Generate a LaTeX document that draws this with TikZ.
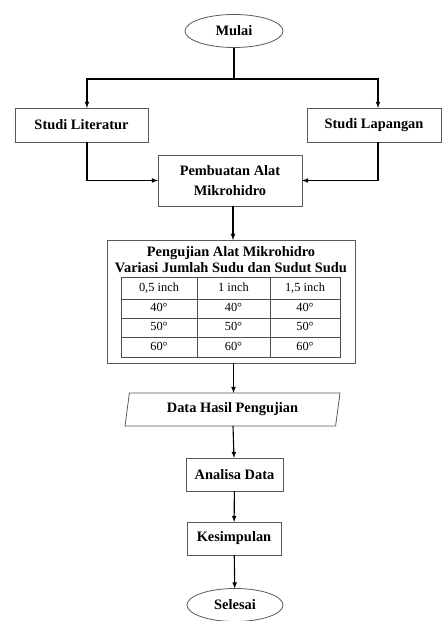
\documentclass[tikz,border=0pt]{standalone}
\usepackage{fontspec}
\setmainfont{Liberation Serif}
\usetikzlibrary{shapes.geometric}

\begin{document}
\begin{tikzpicture}[x=1pt, y=-1pt]
\tikzset{ >=latex, inner sep=0pt, outer sep=0pt,
  box/.style={draw=black!65, line width=0.8pt, rectangle, align=center,
    font=\fontsize{14.4}{20}\selectfont\bfseries},
  term/.style={box, ellipse},
  link/.style={->, line width=1.1pt},
  cell/.style={font=\fontsize{12.4}{14}\selectfont, text height=8.5pt, text depth=2.5pt},
}
\useasboundingbox (0,0) rectangle (443,621);

%\draw [lightgray, dashed](0,0) grid [step=20pt] (443,621);

\node [term, minimum width=98pt, minimum height=33pt] (mulai) at (234,31) {Mulai};
\coordinate (split) at (234,79);

\node [box, minimum width=133pt, minimum height=34pt] (lit) at (81.5,125) {Studi Literatur};
\node [box, minimum width=134pt, minimum height=34pt] (lap) at (374,125) {Studi Lapangan};
\node [box, minimum width=144pt, minimum height=51pt] (buat) at (230,180.5) {Pembuatan Alat\\Mikrohidro};

\node [box, minimum width=248pt, minimum height=123pt] (uji) at (231,301.5) {};
\node [font=\fontsize{14.4}{15}\selectfont\bfseries] (ujiA) at (231,253) {Pengujian Alat Mikrohidro};
\node [font=\fontsize{14.4}{15}\selectfont\bfseries] (ujiB) at (231,268) {Variasi Jumlah Sudu dan Sudut Sudu};

% table
\draw [black!70, line width=0.7pt] (121,277) rectangle (340,357);
\foreach \y in {299,318,337}
  \draw [black!70, line width=0.7pt] (121,\y) -- (340,\y);
\foreach \x in {197,270}
  \draw [black!70, line width=0.7pt] (\x,277) -- (\x,357);
\node [cell] (h1) at (159,288) {0,5 inch};
\node [cell] (h2) at (233.5,288) {1 inch};
\node [cell] (h3) at (305,288) {1,5 inch};
\foreach \v/\y in {40/308.5, 50/327.5, 60/347}{
  \node [cell] at (159,\y) {\v°};
  \node [cell] at (233.5,\y) {\v°};
  \node [cell] at (305,\y) {\v°};
}

\node [box, trapezium, trapezium left angle=78, trapezium right angle=102,
  trapezium stretches=true, minimum width=215pt, minimum height=33pt] (data) at (232.5,409.5) {Data Hasil Pengujian};
\node [box, minimum width=97pt, minimum height=33pt] (analisa) at (234.5,474.5) {Analisa Data};
\node [box, minimum width=94pt, minimum height=33pt] (simpul) at (234,538.5) {Kesimpulan};
\node [term, minimum width=96pt, minimum height=33pt] (selesai) at (235,605) {Selesai};

\draw [line width=1.1pt] (mulai) -- (split);
\draw [link] (split) -| ([xshift=5.5pt]lit.north);
\draw [link] (split) -| ([xshift=4pt]lap.north);
\draw [link] ([xshift=5.5pt]lit.south) |- (buat.west);
\draw [link] ([xshift=4pt]lap.south) |- (buat.east);
\draw [link] ([xshift=3pt]buat.south) -- ([xshift=3pt]buat.south |- uji.north);
\draw [link] ([xshift=2.5pt]uji.south) -- ([xshift=2.5pt]uji.south |- data.north);
\draw [link] (data) -- (analisa);
\draw [link] (analisa) -- (simpul);
\draw [link] (simpul) -- (selesai);
\end{tikzpicture}
\end{document}
